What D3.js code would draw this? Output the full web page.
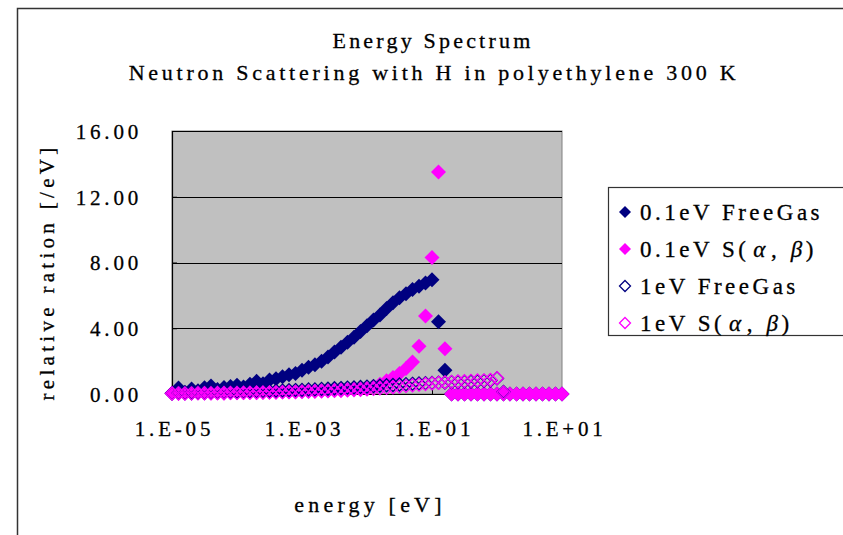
<!DOCTYPE html>
<html>
<head>
<meta charset="utf-8">
<script src="https://cdn.jsdelivr.net/npm/d3@7"></script>
<style>
  body { margin: 0; background: #fff; }
  text { font-family: "Liberation Serif", serif; fill: #000; stroke: #000; stroke-width: 0.3px; }
</style>
</head>
<body>
<script>
// energy grid [eV], 10 points per decade
const energy = [
  1.00e-5, 1.26e-5, 1.58e-5, 2.00e-5, 2.51e-5, 3.16e-5, 3.98e-5, 5.01e-5, 6.31e-5, 7.94e-5,
  1.00e-4, 1.26e-4, 1.58e-4, 2.00e-4, 2.51e-4, 3.16e-4, 3.98e-4, 5.01e-4, 6.31e-4, 7.94e-4,
  1.00e-3, 1.26e-3, 1.58e-3, 2.00e-3, 2.51e-3, 3.16e-3, 3.98e-3, 5.01e-3, 6.31e-3, 7.94e-3,
  1.00e-2, 1.26e-2, 1.58e-2, 2.00e-2, 2.51e-2, 3.16e-2, 3.98e-2, 5.01e-2, 6.31e-2, 7.94e-2,
  1.00e-1, 1.26e-1, 1.58e-1, 2.00e-1, 2.51e-1, 3.16e-1, 3.98e-1, 5.01e-1, 6.31e-1, 7.94e-1,
  1.00e+0, 1.26e+0, 1.58e+0, 2.00e+0, 2.51e+0, 3.16e+0, 3.98e+0, 5.01e+0, 6.31e+0, 7.94e+0,
  1.00e+1
]

const freeGas01 = [
  0.05, 0.36, 0.10, 0.30, 0.20, 0.38, 0.49, 0.28, 0.40, 0.45,
  0.53, 0.42, 0.60, 0.77, 0.62, 0.85, 0.93, 1.05, 1.17, 1.25,
  1.45, 1.62, 1.78, 2.00, 2.25, 2.55, 2.85, 3.15, 3.45, 3.80,
  4.15, 4.50, 4.80, 5.20, 5.55, 5.85, 6.10, 6.35, 6.55, 6.75,
  6.95, 4.40, 1.45, 0, 0, 0, 0, 0, 0, 0,
  0, 0, 0, 0, 0, 0, 0, 0, 0, 0,
  0
]

const sab01 = [
  0.04, 0.05, 0.03, 0.05, 0.06, 0.04, 0.05, 0.06, 0.05, 0.07,
  0.08, 0.07, 0.09, 0.08, 0.10, 0.11, 0.10, 0.12, 0.13, 0.14,
  0.16, 0.17, 0.19, 0.20, 0.22, 0.24, 0.26, 0.28, 0.30, 0.32,
  0.35, 0.45, 0.60, 0.80, 1.00, 1.25, 1.55, 1.95, 2.90, 4.75,
  8.30, 13.50, 2.75, 0, 0, 0, 0, 0, 0, 0,
  0, 0, 0, 0, 0, 0, 0, 0, 0, 0,
  0
]

const freeGas1 = [
  0.04, 0.05, 0.05, 0.06, 0.07, 0.07, 0.08, 0.09, 0.10, 0.11,
  0.12, 0.13, 0.15, 0.16, 0.17, 0.19, 0.20, 0.21, 0.23, 0.24,
  0.25, 0.28, 0.28, 0.31, 0.32, 0.35, 0.36, 0.39, 0.40, 0.43,
  0.45, 0.48, 0.50, 0.53, 0.55, 0.58, 0.60, 0.62, 0.64, 0.66,
  0.67, 0.69, 0.70, 0.72, 0.73, 0.75, 0.76, 0.78, 0.80, 0.82,
  0.95, 0.12
]

const sab1 = [
  0.03, 0.03, 0.04, 0.04, 0.05, 0.05, 0.05, 0.06, 0.06, 0.07,
  0.07, 0.08, 0.08, 0.09, 0.09, 0.10, 0.10, 0.11, 0.12, 0.12,
  0.13, 0.14, 0.15, 0.16, 0.17, 0.19, 0.20, 0.22, 0.24, 0.26,
  0.28, 0.31, 0.34, 0.37, 0.41, 0.45, 0.49, 0.53, 0.57, 0.61,
  0.65, 0.68, 0.71, 0.74, 0.76, 0.78, 0.80, 0.82, 0.83, 0.85,
  0.97, 0.10
]

// legend names split in pieces so the greek letters can get a wider slot
const seriesNames = [
  ["0.1eV FreeGas"],
  ["0.1eV S(", "\u03b1", ",", "\u03b2", ")"],
  ["1eV FreeGas"],
  ["1eV S(", "\u03b1", ",", "\u03b2", ")"]
]
const seriesColors = ["#000080", "#ff00ff", "#000080", "#ff00ff"]
const seriesFilled = [true, true, false, false]
const seriesValues = [freeGas01, sab01, freeGas1, sab1]

const xTicks = [1e-5, 1e-3, 1e-1, 1e1]
const xTickLabels = ["1.E-05", "1.E-03", "1.E-01", "1.E+01"]
const yTicks = [0, 4, 8, 12, 16]

const W = 843, H = 535
const plot = {left: 172, right: 562, top: 131, bottom: 394}
const FONT = "Liberation Serif, serif"

const svg = d3.select("body").append("svg")
  .attr("width", W).attr("height", H)

// chart area border
svg.append("rect")
  .attr("x", 17.5).attr("y", 8.5)
  .attr("width", 1000).attr("height", 1000)
  .attr("fill", "#fff").attr("stroke", "#333").attr("stroke-width", 1.5)

const x = d3.scaleLog().domain([1e-5, 1e1]).range([plot.left, plot.right])
const y = d3.scaleLinear().domain([0, 16]).range([plot.bottom, plot.top])

// plot area
svg.append("rect")
  .attr("x", plot.left).attr("y", plot.top)
  .attr("width", plot.right - plot.left).attr("height", plot.bottom - plot.top)
  .attr("fill", "#c0c0c0").attr("stroke", "#808080")

svg.append("g").selectAll("line")
  .data(yTicks.slice(1))
  .join("line")
  .attr("x1", plot.left).attr("x2", plot.right)
  .attr("y1", d => Math.round(y(d)) + 0.5).attr("y2", d => Math.round(y(d)) + 0.5)
  .attr("stroke", "#000")

// axes
const yAxis = svg.append("g")
  .attr("transform", `translate(${plot.left},0)`)
  .call(d3.axisLeft(y).tickValues(yTicks).tickFormat(d3.format(".2f")).tickSize(-5).tickPadding(30))
const xAxis = svg.append("g")
  .attr("transform", `translate(0,${plot.bottom})`)
  .call(d3.axisBottom(x).tickValues(xTicks).tickFormat((d, i) => xTickLabels[i]).tickSize(-6).tickPadding(27))

for (const g of [xAxis, yAxis]) {
  g.select(".domain").attr("stroke", "#000").attr("stroke-width", 1.2)
  g.selectAll(".tick line").attr("stroke", "#000")
  g.selectAll("text").attr("font-family", FONT).attr("font-size", 21)
    .attr("letter-spacing", 3.8).attr("fill", "#000")
}
yAxis.selectAll("text").attr("dy", "0.35em")
xAxis.selectAll("text").attr("dx", 2)

// markers
const diamond = r => `M0,${-r}L${r},0L0,${r}L${-r},0Z`

seriesValues.forEach((vals, s) => {
  const pts = vals.map((v, i) => ({e: energy[i], v: v})).filter(d => d.v != null)
  svg.append("g").selectAll("path")
    .data(pts)
    .join("path")
    .attr("d", seriesFilled[s] ? diamond(7.5) : diamond(6.5))
    .attr("transform", d => `translate(${x(d.e)},${y(d.v)})`)
    .attr("fill", seriesFilled[s] ? seriesColors[s] : "none")
    .attr("stroke", seriesColors[s])
    .attr("stroke-width", seriesFilled[s] ? 0 : 1.3)
})

// titles
svg.append("text")
  .attr("x", 433).attr("y", 48)
  .attr("text-anchor", "middle").attr("font-size", 22).attr("letter-spacing", 3.2)
  .text("Energy Spectrum")
svg.append("text")
  .attr("x", 434).attr("y", 80)
  .attr("text-anchor", "middle").attr("font-size", 22).attr("letter-spacing", 3.75)
  .text("Neutron Scattering with H in polyethylene 300 K")

svg.append("text")
  .attr("x", 370).attr("y", 512)
  .attr("text-anchor", "middle").attr("font-size", 22).attr("letter-spacing", 4.2)
  .text("energy [eV]")

svg.append("text")
  .attr("transform", "translate(54,272) rotate(-90)")
  .attr("text-anchor", "middle").attr("font-size", 21).attr("letter-spacing", 4.3)
  .text("relative ration [/eV]")

// legend
const legend = svg.append("g")
legend.append("rect")
  .attr("x", 608.5).attr("y", 187.5)
  .attr("width", 400).attr("height", 148)
  .attr("fill", "#fff").attr("stroke", "#333").attr("stroke-width", 1.2)

const legendY = [212, 249, 286, 323]
seriesNames.forEach((parts, s) => {
  legend.append("path")
    .attr("d", diamond(seriesFilled[s] ? 6 : 5.5))
    .attr("transform", `translate(625,${legendY[s]})`)
    .attr("fill", seriesFilled[s] ? seriesColors[s] : "#fff")
    .attr("stroke", seriesColors[s])
    .attr("stroke-width", seriesFilled[s] ? 0 : 1.3)
  const t = legend.append("text")
    .attr("x", 640).attr("y", legendY[s]).attr("dy", "0.36em")
    .attr("font-size", 23).attr("letter-spacing", 3.5)
  parts.forEach((p, k) => {
    const sp = t.append("tspan").text(p)
    if (p === "\u03b1" || p === "\u03b2") sp.attr("dx", 4).attr("font-style", "italic")
    if (p === "," ) sp.attr("dx", 2).attr("letter-spacing", 10)
  })
})
</script>
</body>
</html>
